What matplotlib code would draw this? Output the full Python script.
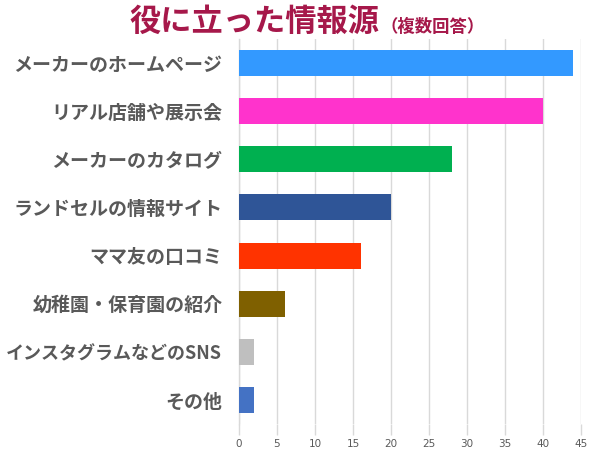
import matplotlib
matplotlib.use("Agg")
import matplotlib.pyplot as plt

plt.rcParams['font.family'] = ['Noto Sans CJK JP', 'DejaVu Sans']

categories = ["メーカーのホームページ", "リアル店舗や展示会", "メーカーのカタログ",
              "ランドセルの情報サイト", "ママ友の口コミ", "幼稚園・保育園の紹介",
              "インスタグラムなどのSNS", "その他"]
values = [44, 40, 28, 20, 16, 6, 2, 2]
colors = ["#3399FF", "#FF33CC", "#00B050", "#2F5597", "#FF3300", "#7F6000", "#BFBFBF", "#4472C4"]
xticks = [0, 5, 10, 15, 20, 25, 30, 35, 40, 45]

fig = plt.figure(figsize=(6, 4.5), dpi=100)
ax = fig.add_axes([239/600, 1-424/450, (581-239)/600, (424-39)/450])

pos = list(range(len(categories)))
ax.barh(pos, values, height=0.54, color=colors, zorder=3)
ax.set_ylim(len(categories)-0.5, -0.5)
ax.set_xlim(0, 45)
ax.set_xticks(xticks)
ax.set_xticklabels([str(t) for t in xticks], fontsize=7.5, color="#595959",
                   family=['DejaVu Sans'])
ax.set_yticks(pos)
ax.set_yticklabels(categories, fontsize=13.7, fontweight='bold', color="#595959")
for lbl in ax.get_yticklabels():
    if "SNS" in lbl.get_text():
        lbl.set_fontsize(13.0)
ax.tick_params(axis='y', length=0, pad=12)
ax.tick_params(axis='x', length=8, color="#D9D9D9", width=1, pad=3)
ax.grid(axis='x', color="#D9D9D9", linewidth=1, zorder=0)
for s in ['top', 'right', 'bottom']:
    ax.spines[s].set_visible(False)
ax.spines['left'].set_color("#D9D9D9")
ax.spines['left'].set_linewidth(1)

fig.text(130/600, 1-22/450, "役に立った情報源", fontsize=22.5, fontweight='bold',
         color="#A6184A", ha='left', va='center')
fig.text(381/600, 1-27/450, "（複数回答）", fontsize=12.5, fontweight='bold',
         color="#A6184A", ha='left', va='center')

fig.savefig("out.png", dpi=100)
